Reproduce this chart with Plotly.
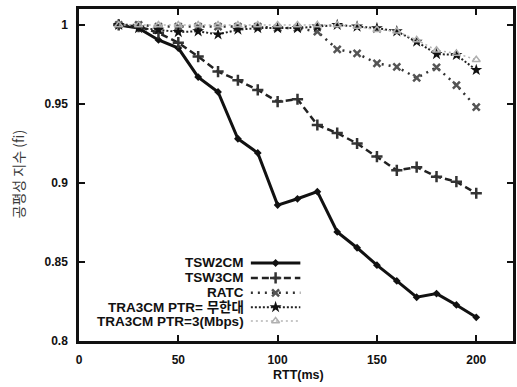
import plotly.graph_objects as go

# RTT values (ms)
rtt = [20, 30, 40, 50, 60, 70, 80, 90, 100, 110, 120, 130, 140, 150, 160, 170, 180, 190, 200]

# Fairness index per scheme
tsw2cm = [1.0, 0.998, 0.9905, 0.9854, 0.967, 0.9576, 0.928, 0.919, 0.886, 0.890,
          0.8945, 0.869, 0.859, 0.848, 0.838, 0.8277, 0.830, 0.8228, 0.815]
tsw3cm = [1.0, 0.999, 0.995, 0.9888, 0.980, 0.9705, 0.965, 0.9589, 0.9515, 0.953,
          0.9367, 0.9316, 0.925, 0.9167, 0.908, 0.910, 0.904, 0.9008, 0.8935]
ratc = [1.0, 1.0, 0.999, 0.999, 0.999, 0.999, 0.999, 0.999, 0.998, 0.998,
        0.9958, 0.9846, 0.982, 0.9757, 0.9735, 0.9665, 0.9732, 0.962, 0.948]
tra3cm_inf = [1.0, 0.998, 0.997, 0.9955, 0.996, 0.994, 0.997, 0.998, 0.998, 0.998,
              0.999, 1.0, 0.999, 0.998, 0.996, 0.9894, 0.9816, 0.981, 0.9715]
tra3cm_3m = [1.0, 1.0, 1.0, 1.0, 1.0, 1.0, 1.0, 1.0, 1.0, 1.0,
             1.0, 1.0, 0.999, 0.997, 0.996, 0.9905, 0.984, 0.982, 0.978]

names = ["TSW2CM", "TSW3CM", "RATC", "TRA3CM PTR= 무한대", "TRA3CM PTR=3(Mbps)"]
series = [tsw2cm, tsw3cm, ratc, tra3cm_inf, tra3cm_3m]

styles = [
    dict(line=dict(color="#111111", width=3, dash="solid"),
         marker=dict(symbol="diamond", size=6, color="#111111")),
    dict(line=dict(color="#222222", width=2.5, dash="7px,4px"),
         marker=dict(symbol="cross-thin-open", size=8, color="#333333", line=dict(width=2.5, color="#333333"))),
    dict(line=dict(color="#333333", width=2.5, dash="2px,5px"),
         marker=dict(symbol="x-thin-open", size=7, color="#555555", line=dict(width=2.5, color="#555555"))),
    dict(line=dict(color="#222222", width=2, dash="2px,2px"),
         marker=dict(symbol="star", size=9, color="#111111")),
    dict(line=dict(color="#b5b5b5", width=1.5, dash="2px,3px"),
         marker=dict(symbol="triangle-up-open", size=7, color="#b0b0b0", line=dict(width=1.5, color="#b0b0b0"))),
]

fig = go.Figure()
for name, ys, st in zip(names, series, styles):
    fig.add_trace(go.Scatter(x=rtt, y=ys, mode="lines+markers", name=name,
                             showlegend=False, **st))

# Legend drawn gnuplot-style: right-aligned label, sample line to its right
leg_x0, leg_x1, leg_xm = 0.396, 0.510, 0.453
leg_rows = [0.235, 0.19, 0.145, 0.102, 0.060]
for name, st, yy in zip(names, styles, leg_rows):
    fig.add_trace(go.Scatter(x=[leg_x0, leg_x1], y=[yy, yy], mode="lines",
                             line=st["line"], xaxis="x2", yaxis="y2",
                             showlegend=False, hoverinfo="skip"))
    fig.add_trace(go.Scatter(x=[leg_xm], y=[yy], mode="markers",
                             marker=st["marker"], xaxis="x2", yaxis="y2",
                             showlegend=False, hoverinfo="skip"))
    fig.add_annotation(x=0.384, y=yy, xref="x2", yref="y2", text=name,
                       showarrow=False, xanchor="right", yanchor="middle",
                       font=dict(family="Liberation Sans, Noto Sans CJK KR", size=13.5,
                                 color="#111111", weight="bold"))

axis_common = dict(showline=True, linewidth=2.5, linecolor="#111111", mirror="ticks",
                   ticks="inside", ticklen=6, tickwidth=2, tickcolor="#111111",
                   showgrid=False, zeroline=False,
                   tickfont=dict(family="Liberation Sans", size=12, color="#111111", weight="bold"))

fig.update_layout(
    width=517, height=387,
    margin=dict(l=79, r=1, t=9, b=46),
    paper_bgcolor="white", plot_bgcolor="white",
    xaxis=dict(range=[0, 218.5], tickvals=[0, 50, 100, 150, 200],
               ticklabelstandoff=6, **axis_common),
    yaxis=dict(range=[0.8, 1.0101], tickvals=[0.8, 0.85, 0.9, 0.95, 1.0],
               ticktext=["0.8", "0.85", "0.9", "0.95", "1"],
               ticklabelstandoff=6, **axis_common),
    xaxis2=dict(overlaying="x", range=[0, 1], visible=False),
    yaxis2=dict(overlaying="y", range=[0, 1], visible=False),
    showlegend=False,
)

fig.add_annotation(x=0.506, y=-0.103, xref="paper", yref="paper", text="RTT(ms)",
                   showarrow=False, xanchor="center", yanchor="middle",
                   font=dict(family="Liberation Sans", size=12.5, color="#111111", weight="bold"))
fig.add_annotation(x=-0.1396, y=0.503, xref="paper", yref="paper", text="공평성 지수 (fi)",
                   showarrow=False, textangle=-90, xanchor="center", yanchor="middle",
                   font=dict(family="Noto Sans CJK KR", size=14, color="#3a3a3a"))

fig.write_html("out.html")
